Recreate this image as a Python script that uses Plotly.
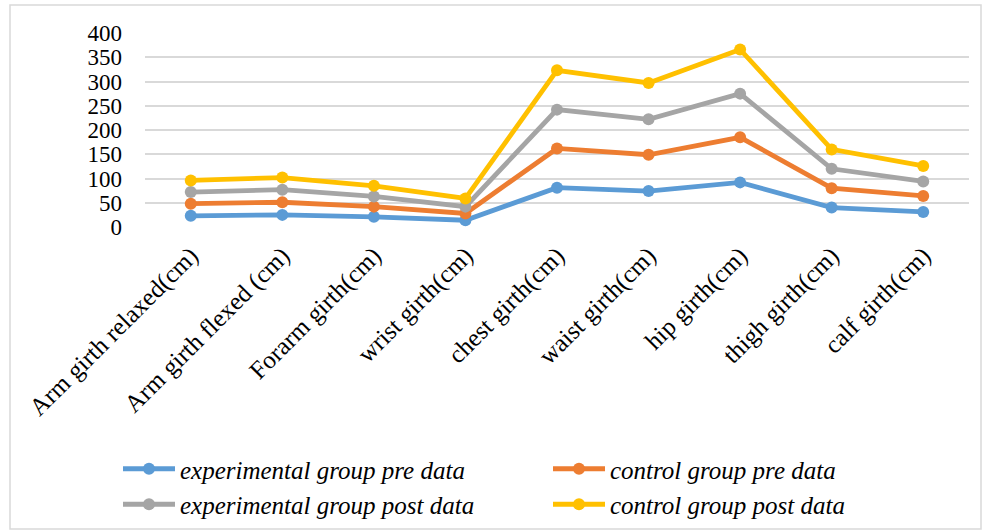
import plotly.graph_objects as go

# Body girth measurements (cm) per group; series are stacked cumulatively
categories = [
    "Arm girth relaxed(cm)", "Arm girth flexed (cm)", "Forarm girth(cm)",
    "wrist girth(cm)", "chest girth(cm)", "waist girth(cm)",
    "hip girth(cm)", "thigh girth(cm)", "calf girth(cm)",
]

exp_pre = [23, 25, 21, 14, 81, 74, 92, 40, 31]
ctrl_pre = [25, 26, 21, 14, 81, 75, 93, 40, 33]
exp_post = [24, 26, 21, 14, 80, 73, 90, 40, 30]
ctrl_post = [24, 25, 22, 17, 81, 75, 91, 40, 32]

series = [
    ("experimental group pre data", exp_pre, "#5B9BD5", "legend"),
    ("control group pre data", ctrl_pre, "#ED7D31", "legend2"),
    ("experimental group post data", exp_post, "#A5A5A5", "legend"),
    ("control group post data", ctrl_post, "#FFC000", "legend2"),
]

W, H = 983, 531
L, R, T, B = 145, 14, 33, 304  # plot area margins in px
pw, ph = W - L - R, H - T - B


def px_x(p):
    return (p - L) / pw


def px_y(p):
    return (H - B - p) / ph


fig = go.Figure()
for name, vals, color, leg in series:
    fig.add_trace(go.Scatter(
        x=categories, y=vals, name=name, mode="lines+markers",
        stackgroup="one", fill="none", legend=leg, legendgroup=name,
        line=dict(color=color, width=4.8),
        marker=dict(color=color, size=12),
    ))

serif = "Times New Roman"
legend_common = dict(
    orientation="v", xanchor="left", yanchor="top",
    xref="container", yref="container",
    font=dict(family=serif, size=25, color="black", style="italic"),
    bgcolor="rgba(0,0,0,0)", tracegroupgap=3, itemwidth=52,
    traceorder="normal",
)

fig.update_layout(
    width=W, height=H,
    margin=dict(l=L, r=R, t=T, b=B, autoexpand=False),
    paper_bgcolor="white", plot_bgcolor="white",
    showlegend=True,
    legend=dict(x=118 / W, y=1 - 446 / H, **legend_common),
    legend2=dict(x=548 / W, y=1 - 446 / H, **legend_common),
    xaxis=dict(
        range=[-0.5, 8.5], tickangle=-45, showgrid=False, zeroline=False,
        showline=False, ticks="", ticklabelstandoff=8,
        tickfont=dict(family=serif, size=25, color="black"),
    ),
    yaxis=dict(
        range=[0, 400], dtick=50, showgrid=True, gridcolor="#d9d9d9",
        gridwidth=1.5, zeroline=False, showline=False, ticks="",
        ticklabelstandoff=22,
        tickfont=dict(family=serif, size=23, color="black"),
    ),
    shapes=[dict(
        type="rect", xref="paper", yref="paper",
        x0=px_x(10), x1=px_x(981), y0=px_y(529), y1=px_y(5),
        line=dict(color="#d9d9d9", width=1.5), layer="below",
    )],
)

fig.write_html("out.html")
